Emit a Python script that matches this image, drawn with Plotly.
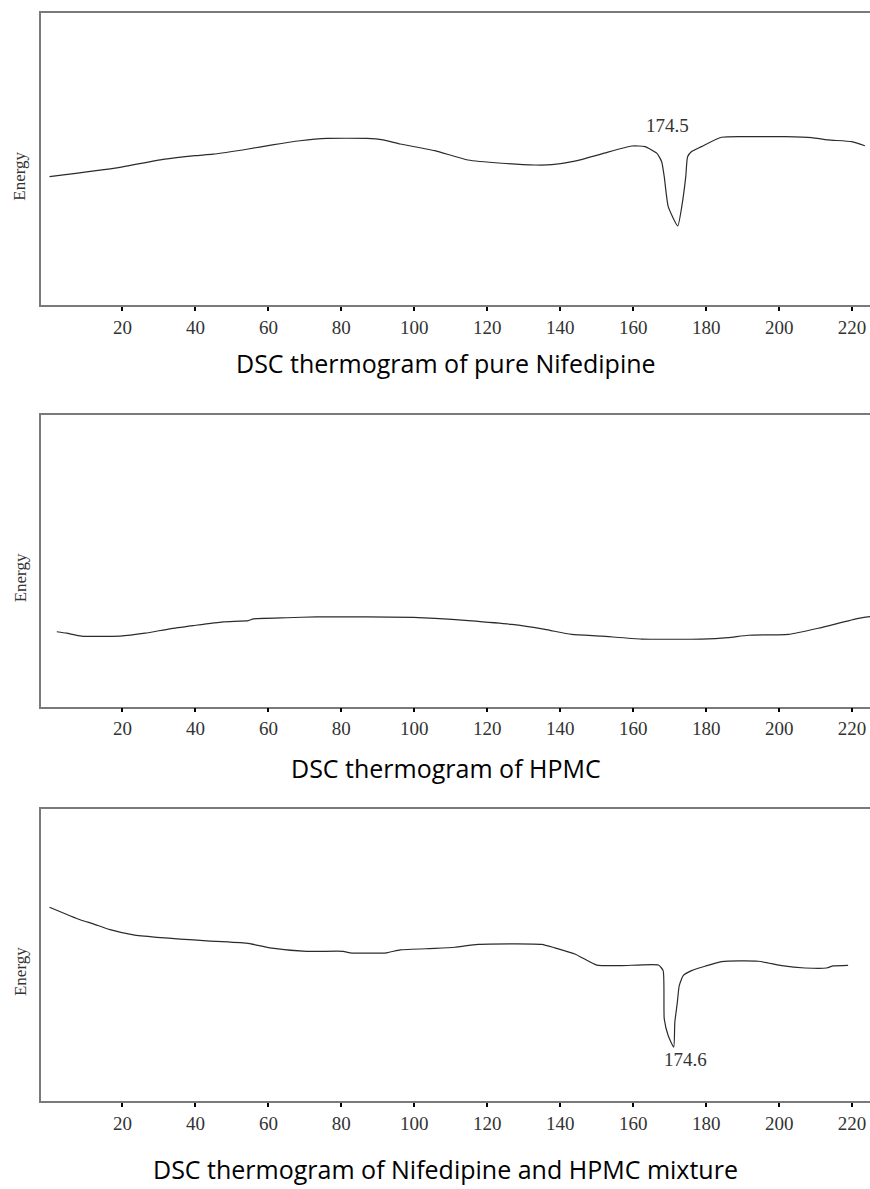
import plotly.graph_objects as go

# ---- Data (temperature in deg C, relative energy signal) ----
nif_temp = [0, 18.9, 31.1, 39.9, 44.8, 54.1, 61.1, 68.7, 76.1, 87.0,
            91.4, 96.1, 105.6, 114.7, 124.0, 133.1, 137.7, 144.0, 151.4, 159.6,
            163.2, 166.5, 167.8, 168.5, 169.6, 172.2, 173.3, 174.4, 174.9, 176.0,
            178.7, 184.2, 192.5, 201.6, 208.9, 213.4, 219.9, 223.5]
nif_energy = [44.0, 47.1, 49.9, 51.2, 51.7, 53.4, 54.9, 56.3, 57.1, 57.1,
              56.6, 55.2, 52.9, 49.7, 48.6, 48.0, 48.1, 49.3, 51.8, 54.5,
              54.3, 52.0, 49.1, 44.0, 33.7, 27.1, 33.7, 44.0, 50.8, 52.6,
              54.3, 57.5, 57.7, 57.7, 57.4, 56.6, 56.0, 54.6]

hpmc_temp = [2.0, 4.7, 8.8, 19.3, 26.2, 33.0, 39.4, 47.6, 54.5, 55.9,
             65.0, 73.2, 86.9, 99.7, 105.7, 114.8, 126.7, 135.8, 143.1, 151.3,
             162.3, 178.7, 186.0, 191.5, 202.5, 210.7, 221.7, 224.9]
hpmc_energy = [25.7, 25.2, 24.2, 24.2, 25.2, 26.7, 27.8, 29.1, 29.5, 30.1,
               30.5, 30.8, 30.8, 30.6, 30.3, 29.5, 28.2, 26.5, 24.8, 24.2,
               23.2, 23.2, 23.7, 24.5, 24.8, 26.9, 30.3, 30.9]

mix_temp = [0, 8.4, 12.0, 16.6, 23.0, 29.4, 35.8, 43.1, 54.0, 60.4,
            70.5, 80.5, 82.4, 92.4, 96.1, 105.7, 111.1, 117.5, 134.9, 138.5,
            144.0, 150.0, 156.8, 166.9, 168.2, 168.5, 169.6, 171.1, 171.4, 172.1,
            172.6, 173.7, 176.0, 179.7, 184.2, 194.3, 200.7, 207.1, 213.0, 214.8,
            218.9]
mix_energy = [66.4, 62.1, 60.7, 58.7, 56.9, 56.1, 55.5, 54.9, 54.1, 52.5,
              51.3, 51.3, 50.8, 50.8, 51.8, 52.3, 52.7, 53.7, 53.7, 52.5,
              50.4, 46.6, 46.4, 46.6, 44.7, 28.2, 22.4, 18.5, 27.0, 33.9,
              39.5, 43.0, 44.7, 46.2, 47.8, 47.9, 46.4, 45.6, 45.6, 46.3,
              46.5]

panel_titles = ["DSC thermogram of pure Nifedipine",
                "DSC thermogram of HPMC",
                "DSC thermogram of Nifedipine and HPMC mixture"]
peak_labels = ["174.5", "174.6"]
peak_label_pos = [(169.5, 61.7), (174.4, 14.2)]
x_ticks = [20, 40, 60, 80, 100, 120, 140, 160, 180, 200, 220]

# ---- Figure ----
W, H = 870, 1189
fig = go.Figure()

series = [(nif_temp, nif_energy), (hpmc_temp, hpmc_energy), (mix_temp, mix_energy)]
domains = [[0.7435, 0.9888], [0.4056, 0.6510], [0.0738, 0.3196]]
energy_y = [0.8514, 0.5136, 0.1825]
title_y = [1 - 363 / H, 1 - 768.3 / H, 0.0]
title_anchor = ["middle", "middle", "bottom"]
title_shift = [0, 0, 1]

axis_color = "#7a7a7a"
serif = "Liberation Serif, DejaVu Serif, serif"

layout = dict(
    width=W, height=H, autosize=False,
    margin=dict(l=41, r=0, t=0, b=0, pad=0),
    paper_bgcolor="white", plot_bgcolor="white",
    showlegend=False,
    annotations=[],
)

for i, (xs, ys) in enumerate(series):
    n = "" if i == 0 else str(i + 1)
    fig.add_trace(go.Scatter(x=xs, y=ys, mode="lines",
                             line=dict(color="#2b2b2b", width=1.2,
                                       shape="spline", smoothing=0.5),
                             xaxis="x" + n, yaxis="y" + n,
                             hoverinfo="skip"))
    layout["xaxis" + n] = dict(
        domain=[0, 1], anchor="y" + n, range=[-2.33, 224.9],
        tickmode="array", tickvals=x_ticks,
        ticks="outside", ticklen=4, tickwidth=2, tickcolor="black",
        showline=True, linecolor=axis_color, linewidth=1.5, mirror=True,
        showgrid=False, zeroline=False,
        tickfont=dict(family=serif, size=19, color="#333333"),
    )
    layout["yaxis" + n] = dict(
        domain=domains[i], anchor="x" + n, range=[0, 100],
        showticklabels=False, ticks="",
        showline=True, linecolor=axis_color, linewidth=1.5, mirror=False,
        showgrid=False, zeroline=False,
    )
    layout["annotations"].append(dict(
        text="Energy", textangle=-90, xref="paper", yref="paper",
        x=-0.0253, y=energy_y[i], xanchor="center", yanchor="middle",
        showarrow=False, font=dict(family=serif, size=17, color="#333333")))
    layout["annotations"].append(dict(
        text=panel_titles[i], xref="paper", yref="paper",
        x=0.4885, y=title_y[i], xanchor="center", yanchor=title_anchor[i],
        yshift=title_shift[i],
        showarrow=False, font=dict(family="Open Sans, Noto Sans, sans-serif",
                                   size=25, color="black")))

for (px, py), lab, n in zip(peak_label_pos, peak_labels, ["", "3"]):
    layout["annotations"].append(dict(
        text=lab, xref="x" + n, yref="y" + n, x=px, y=py,
        xanchor="center", yanchor="middle", showarrow=False,
        font=dict(family=serif, size=19, color="#333333")))

fig.update_layout(**layout)
fig.write_html("out.html",
               config={"displayModeBar": False},
               post_script="document.body.style.margin='0';"
                           "document.body.style.overflow='hidden';")
